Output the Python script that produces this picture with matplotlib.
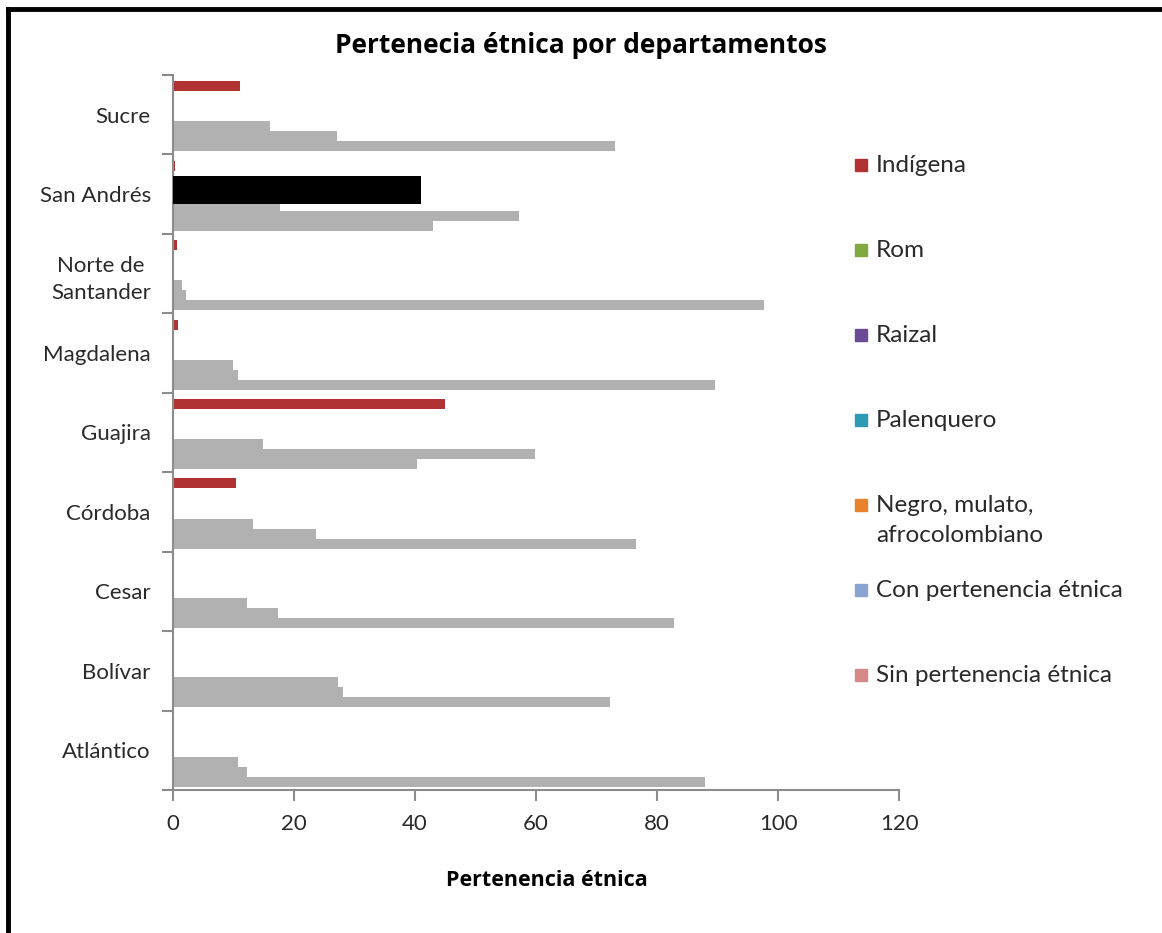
import matplotlib
matplotlib.use("Agg")
import matplotlib.pyplot as plt
from matplotlib.lines import Line2D
from matplotlib.patches import Rectangle
import numpy as np

# departamentos, bottom to top as drawn
departamentos = ["Atlántico", "Bolívar", "Cesar", "Córdoba", "Guajira",
                 "Magdalena", "Norte de\nSantander", "San Andrés", "Sucre"]

series = ["Indígena", "Rom", "Raizal", "Palenquero",
          "Negro, mulato,\nafrocolombiano", "Con pertenencia étnica",
          "Sin pertenencia étnica"]

indigena = [0, 0, 0, 10.4, 45.0, 0.8, 0.6, 0.3, 11.1]
rom = [0, 0, 0, 0, 0, 0, 0, 0, 0]
raizal = [0, 0, 0, 0, 0, 0, 0, 41.0, 0]
palenquero = [0, 0, 0, 0, 0, 0, 0, 0, 0]
negro = [10.7, 27.3, 12.2, 13.2, 14.9, 9.9, 1.5, 17.7, 16.0]
con_pert = [12.2, 28.1, 17.4, 23.6, 59.8, 10.7, 2.1, 57.2, 27.1]
sin_pert = [87.9, 72.2, 82.8, 76.5, 40.3, 89.6, 97.7, 43.0, 73.0]

values = [indigena, rom, raizal, palenquero, negro, con_pert, sin_pert]

legend_colors = ["#b03232", "#82a840", "#6a4a94", "#2f9ab5", "#e8822c",
                 "#8aa3d0", "#d48888"]
bar_colors = ["#b03232", "#82a840", "#000000", "#2f9ab5", "#adadad",
              "#adadad", "#adadad"]

TXT = dict(family="Lato", weight="normal", color="#2a2a2a")

fig = plt.figure(figsize=(11.62, 9.33), dpi=100)
ax = fig.add_axes([0.1489, 0.1533, 0.6248, 0.7663])

y = np.arange(len(departamentos))
h = 0.126
for k, (vals, col) in enumerate(zip(values, bar_colors)):
    if k == 2:
        # the raizal bar is drawn as a wide black block
        ax.barh(y + 0.057, vals, height=0.353, color=col, zorder=3)
    else:
        ax.barh(y + (3 - k) * h - 0.02, vals, height=h, color=col,
                alpha=0.95 if k >= 4 else 1.0, zorder=2)

ax.set_xlim(0, 120)
ax.set_ylim(-0.5, len(departamentos) - 0.5)
ax.set_xticks(np.arange(0, 121, 20))
ax.set_yticks(y)
ax.set_yticklabels(departamentos)
ax.set_yticks(np.arange(-0.5, len(departamentos), 1), minor=True)

for s in ["top", "right"]:
    ax.spines[s].set_visible(False)
for s in ["left", "bottom"]:
    ax.spines[s].set_color("#8c8c8c")
    ax.spines[s].set_linewidth(1.5)

ax.tick_params(axis="y", which="major", length=0, pad=16)
ax.tick_params(axis="y", which="minor", length=8, width=1.5, color="#8c8c8c")
ax.tick_params(axis="x", length=8, width=1.5, color="#8c8c8c", pad=9)
for lab in ax.get_yticklabels() + ax.get_xticklabels():
    lab.set_fontfamily("Lato")
    lab.set_fontsize(16)
    lab.set_color("#2a2a2a")
for lab in ax.get_yticklabels():
    lab.set_multialignment("center")
    lab.set_linespacing(1.45)

fig.text(0.5, 0.951, "Pertenecia étnica por departamentos", ha="center",
         va="center", fontsize=19, fontweight="bold", family="Open Sans")
fig.text(547 / 1162, 1 - 880 / 933, "Pertenencia étnica", ha="center",
         va="center", fontsize=15.5, fontweight="bold", family="Open Sans")

# legend, one entry every 85 px
for k, (name, col) in enumerate(zip(series, legend_colors)):
    yc = 1 - (165 + 85 * k) / 933
    fig.patches.append(Rectangle((855 / 1162, yc - 6 / 933), 12 / 1162, 12 / 933,
                                 transform=fig.transFigure, color=col))
    fig.text(876 / 1162, yc + 10 / 933, name, ha="left", va="top",
             fontsize=17.5, linespacing=1.55, **TXT)

# frame lines (left and top)
fig.add_artist(Line2D([8 / 1162, 8 / 1162], [0, 1 - 9 / 933], color="black",
                      lw=3.5, transform=fig.transFigure))
fig.add_artist(Line2D([8 / 1162, 1], [1 - 9 / 933, 1 - 9 / 933], color="black",
                      lw=3.5, transform=fig.transFigure))

fig.savefig("out.png", dpi=100)
